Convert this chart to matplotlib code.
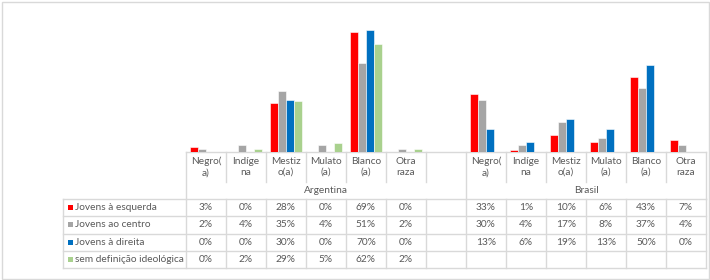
import matplotlib

matplotlib.use("Agg")

import matplotlib.pyplot as plt
import numpy as np

plt.rcParams["font.family"] = ["Lato", "DejaVu Sans"]

# data
races = ["Negro(\na)", "Indíge\nna", "Mestiz\no(a)", "Mulato\n(a)", "Blanco\n(a)", "Otra\nraza"]
countries = ["Argentina", "Brasil"]
series_names = ["Jovens à esquerda", "Jovens ao centro", "Jovens à direita", "sem definição ideológica"]
series_colors = ["#FF0000", "#A5A5A5", "#0070C0", "#A9D18E"]

arg_esquerda = [3, 0, 28, 0, 69, 0]
arg_centro = [2, 4, 35, 4, 51, 2]
arg_direita = [0, 0, 30, 0, 70, 0]
arg_sem_def = [0, 2, 29, 5, 62, 2]

bra_esquerda = [33, 1, 10, 6, 43, 7]
bra_centro = [30, 4, 17, 8, 37, 4]
bra_direita = [13, 6, 19, 13, 50, 0]
bra_sem_def = [None, None, None, None, None, None]

argentina = [arg_esquerda, arg_centro, arg_direita, arg_sem_def]
brasil = [bra_esquerda, bra_centro, bra_direita, bra_sem_def]

# layout (pixels)
W, H = 710, 280
TABLE_LEFT = 186
COL_W = 40
LEGEND_LEFT = 63
BASE_Y = 152
HEADER_BOTTOM = 182
GROUP_BOTTOM = 199
ROW_H = 17.25
N_COLS = 13
TEXT = "#595959"
GRID = "#D9D9D9"
FS = 7.3

fig = plt.figure(figsize=(W / 100, H / 100), dpi=100)

# overlay in pixel coordinates for the data table
ov = fig.add_axes([0, 0, 1, 1])
ov.set_xlim(0, W)
ov.set_ylim(H, 0)
ov.axis("off")

# chart border
ov.add_patch(plt.Rectangle((1.5, 1.5), W - 3, H - 3, fill=False, edgecolor=GRID, linewidth=1))

# bars
y_max = 0.8
top_y = BASE_Y - y_max * 100 * 1.743
ax = fig.add_axes([
    TABLE_LEFT / W,
    1 - BASE_Y / H,
    COL_W * N_COLS / W,
    (BASE_Y - top_y) / H,
])
ax.patch.set_alpha(0)
ax.set_xlim(-0.5, N_COLS - 0.5)
ax.set_ylim(0, y_max)
ax.axis("off")

bw = 0.206
country_cols = [list(range(0, 6)), list(range(7, 13))]
for data, cols in zip([argentina, brasil], country_cols):
    for i, (vals, color) in enumerate(zip(data, series_colors)):
        xs = [c + (i - 1.5) * bw for c, v in zip(cols, vals) if v is not None]
        hs = [v / 100 for v in vals if v is not None]
        ax.bar(xs, hs, width=bw, color=color, edgecolor="white", linewidth=0.4)


def col_x(c):
    return TABLE_LEFT + c * COL_W


# axis line / table top
table_right = col_x(N_COLS)
ov.plot([TABLE_LEFT, table_right], [BASE_Y, BASE_Y], color=GRID, lw=1)

# category header vertical lines
for c in range(N_COLS + 1):
    bottom = GROUP_BOTTOM if c in (0, 7, 13) else HEADER_BOTTOM
    ov.plot([col_x(c), col_x(c)], [BASE_Y, bottom], color=GRID, lw=1)

# category labels
for cols in country_cols:
    for c, label in zip(cols, races):
        ov.text(col_x(c) + COL_W / 2, 167, label, ha="center", va="center",
                fontsize=FS, color=TEXT, linespacing=1.25)

# country labels
for (start, end), name in zip([(0, 7), (7, 13)], countries):
    ov.text((col_x(start) + col_x(end)) / 2, 190.5, name, ha="center", va="center",
            fontsize=FS, color=TEXT)

# data rows
rows_bottom = GROUP_BOTTOM + 4 * ROW_H
for r in range(5):
    y = GROUP_BOTTOM + r * ROW_H
    ov.plot([LEGEND_LEFT, table_right], [y, y], color=GRID, lw=1)
ov.plot([LEGEND_LEFT, LEGEND_LEFT], [GROUP_BOTTOM, rows_bottom], color=GRID, lw=1)
for c in range(N_COLS + 1):
    ov.plot([col_x(c), col_x(c)], [GROUP_BOTTOM, rows_bottom], color=GRID, lw=1)

for r, (name, color) in enumerate(zip(series_names, series_colors)):
    yc = GROUP_BOTTOM + (r + 0.5) * ROW_H
    ov.add_patch(plt.Rectangle((67.5, yc - 2.5), 5, 5, facecolor=color, edgecolor="none"))
    ov.text(75, yc, name, ha="left", va="center", fontsize=FS, color=TEXT)
    for data, cols in zip([argentina, brasil], country_cols):
        for c, v in zip(cols, data[r]):
            if v is None:
                continue
            ov.text(col_x(c) + COL_W / 2, yc, f"{v}%", ha="center", va="center",
                    fontsize=FS, color=TEXT)

fig.savefig("out.png", dpi=100)
